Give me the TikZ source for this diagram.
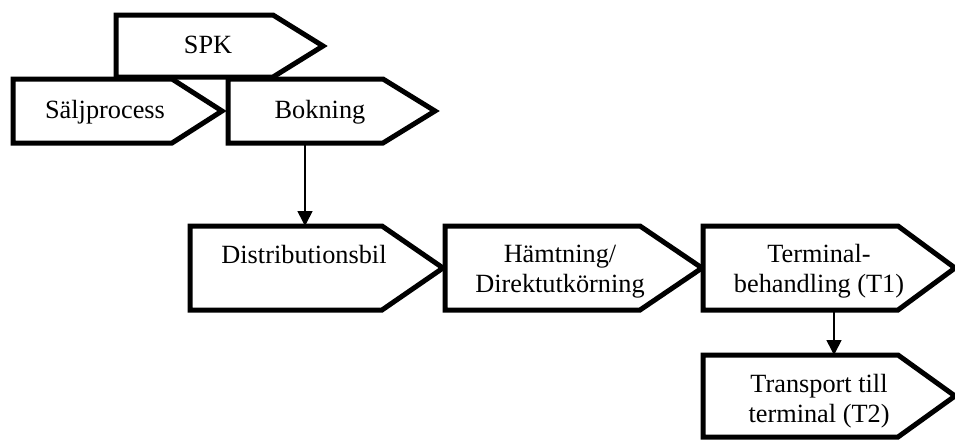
\documentclass[tikz,border=0pt]{standalone}
\usepackage{fontspec}
\setmainfont{Liberation Serif}
\usetikzlibrary{arrows.meta}

% Process step drawn as a pentagon arrow: left, top, end of the straight part, tip, bottom
\newcommand{\procshape}[6]{%
  \node[frame, minimum width={(#5-#2)*1pt}, minimum height={(#6-#3)*1pt}, anchor=north west] (#1) at (#2,#3) {};
  \draw[stepline] (#2,#3) -- (#4,#3) -- (#5,{(#3+#6)/2}) -- (#4,#6) -- (#2,#6) -- cycle;
}

\tikzset{
  frame/.style={inner sep=0pt, outer sep=0pt, draw=none},
  stepline/.style={line width=5pt, line join=miter, draw=black, fill=white},
  steptext/.style={font=\fontsize{26.3}{30}\selectfont, inner sep=0pt, anchor=base, align=center},
  flow/.style={line width=1.6pt, -{Triangle[length=15pt,width=15pt]}}
}

\begin{document}
\begin{tikzpicture}[x=1pt, y=-1pt]
\useasboundingbox (0,0) rectangle (955,439);

% top row
\procshape{spk}{116}{15}{273}{323}{77}
\procshape{salj}{13}{79}{172}{222}{143}
\procshape{bok}{228}{79}{383}{435}{143}

% middle row
\procshape{dist}{190}{226}{382}{443}{310}
\procshape{hamt}{445}{226}{640}{702}{310}
\procshape{term}{703}{226}{898}{955}{310}

% lower row
\procshape{trans}{703}{355}{898}{955}{437}

% labels (base anchor sits on the last line)
\node[steptext] (spkt) at (208,53) {SPK};
\node[steptext] (saljt) at (105,118) {Säljprocess};
\node[steptext] (bokt) at (320,118) {Bokning};
\node[steptext] (distt) at (304,263) {Distributionsbil};
\node[steptext] (hamtt) at (560,292) {Hämtning/\\Direktutkörning};
\node[steptext] (termt) at (819,292) {Terminal-\\behandling (T1)};
\node[steptext] (transt) at (819,422) {Transport till\\terminal (T2)};

% connectors
\coordinate (bokout) at (305,145);
\coordinate (termout) at (834,312);
\draw[flow] (bokout) -- (bokout |- dist.north);
\draw[flow] (termout) -- (termout |- trans.north);
\end{tikzpicture}
\end{document}
